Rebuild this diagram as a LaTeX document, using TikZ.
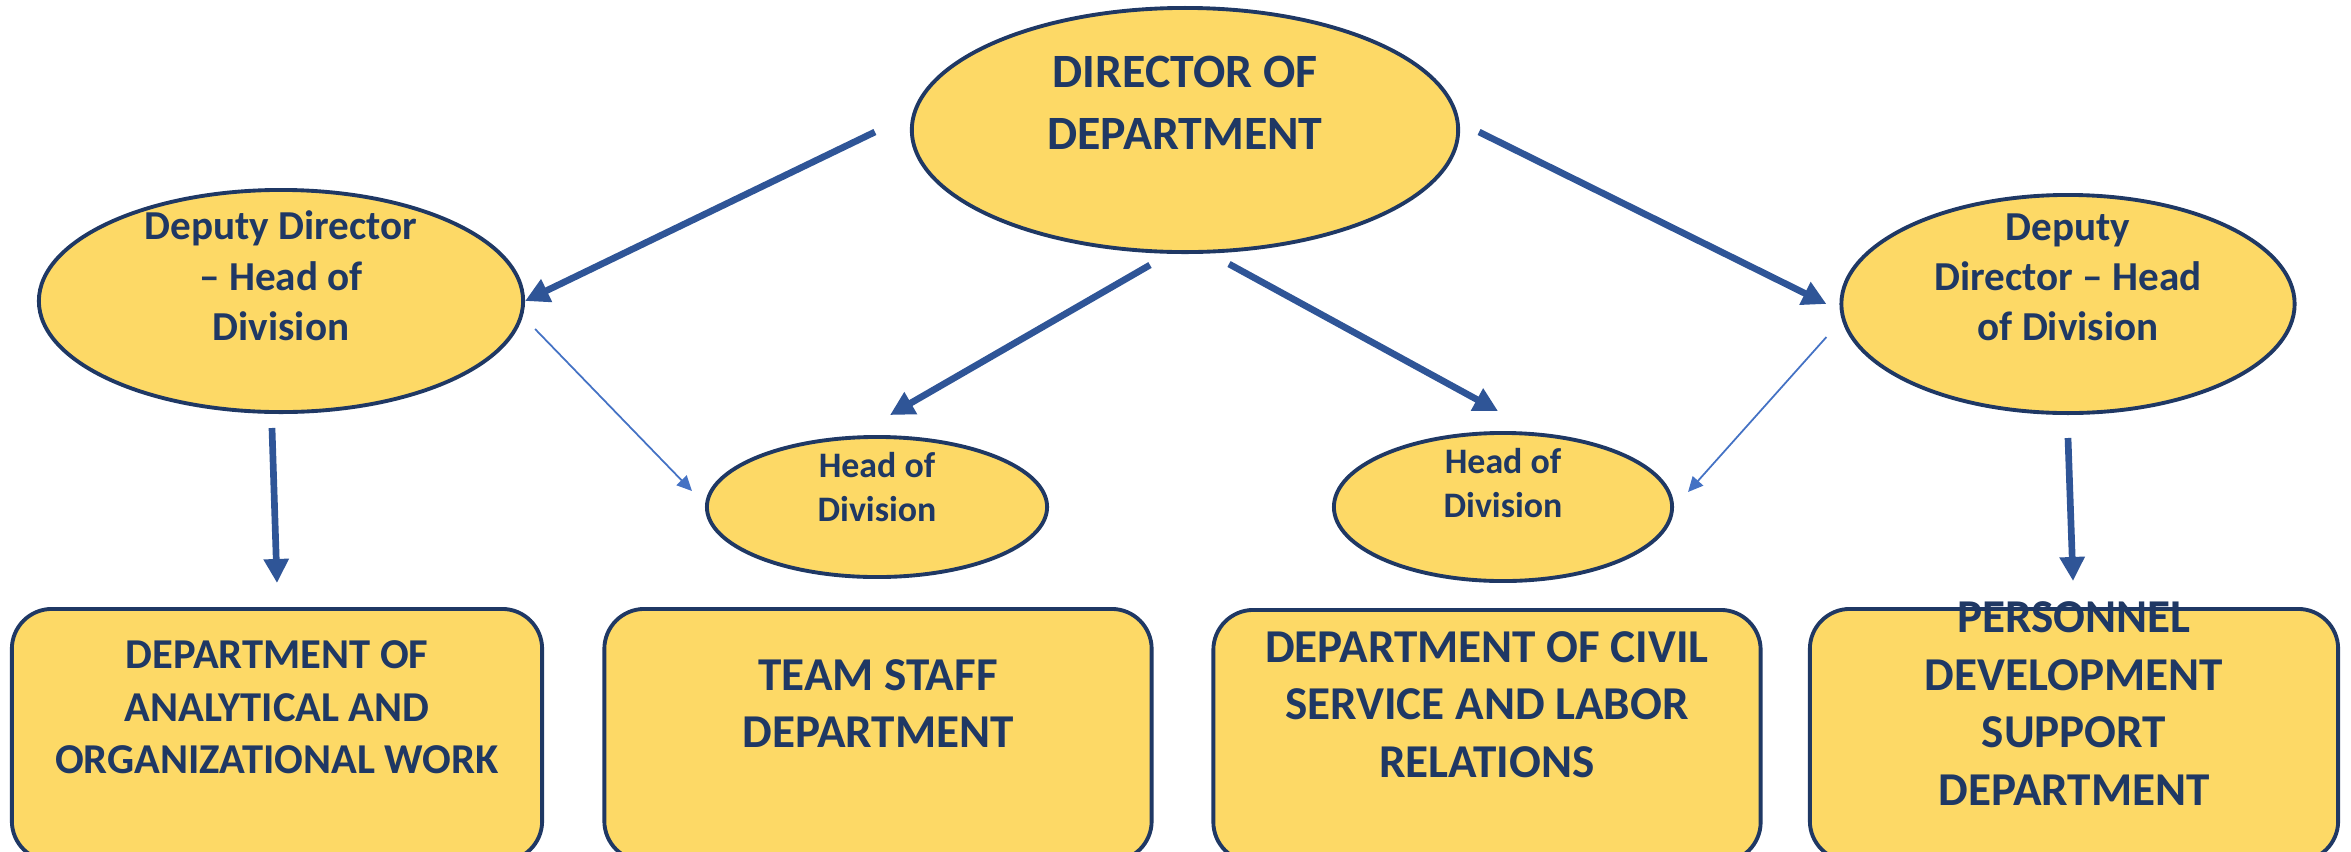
\documentclass[tikz,border=0pt]{standalone}
\usepackage{fontspec}
\setmainfont{Carlito}
\usetikzlibrary{shapes.geometric,arrows.meta,calc}
\definecolor{gold}    {RGB}{253,217,102}
\definecolor{navy}    {RGB}{ 31, 56,100}
\definecolor{linkblue}{RGB}{ 47, 85,151}
\definecolor{thinblue}{RGB}{ 68,114,196}
\newcommand{\ftop}{\fontsize{13.6}{17.4}\selectfont\bfseries}
\newcommand{\fbig}{\fontsize{13.4}{16.35}\selectfont\bfseries}
\newcommand{\fmid}{\fontsize{11.7}{14.3}\selectfont\bfseries}
\newcommand{\fsml}{\fontsize{10.2}{12.5}\selectfont\bfseries}
% text sits a little above the middle of its shape
\newcommand{\stacked}[2][0.32em]{\raisebox{#1}[0pt][0pt]{%
  \begin{tabular}{@{}c@{}}#2\end{tabular}}}
\tikzset{
  base/.style ={draw=navy,fill=gold,line width=1.1pt,inner sep=0pt,
                 text=navy},
  oval/.style ={base,ellipse},
  unit/.style ={base,rectangle,rounded corners=0.4cm,
                 minimum height=2.52cm},
  sig/.style  ={-{Triangle[length=0.24cm,width=0.24cm]},
                 line width=1.9pt,draw=linkblue},
  sigt/.style ={-{Triangle[length=0.15cm,width=0.14cm]},
                 line width=0.5pt,draw=thinblue},
}

\begin{document}
\begin{tikzpicture}[x=0.01cm,y=-0.01cm]
  \useasboundingbox (0,0) rectangle (2351,851);
  \clip (0,0) rectangle (2351,851);
  % ovals
  \node[oval,minimum width=5.46cm,minimum height=2.44cm,font=\ftop]
        (dir)   at (1185,130) {\stacked[0.23em]{DIRECTOR OF\\DEPARTMENT}};
  \node[oval,minimum width=4.84cm,minimum height=2.22cm,font=\fmid]
        (depL)  at (281,301)  {\stacked[0.25em]{Deputy Director\\– Head of\\Division}};
  \node[oval,minimum width=4.53cm,minimum height=2.18cm,font=\fmid]
        (depR)  at (2068,304) {\stacked{Deputy\\Director – Head\\of Division}};
  \node[oval,minimum width=3.40cm,minimum height=1.40cm,font=\fsml]
        (head1) at (877,507)  {\stacked[0.2em]{Head of\\Division}};
  \node[oval,minimum width=3.38cm,minimum height=1.48cm,font=\fsml]
        (head2) at (1503,507) {\stacked{Head of\\Division}};
  % departments
  \node[unit,minimum width=5.30cm,font=\fontsize{12.1}{14.9}\selectfont\bfseries]
        (box1) at (277,735)
        {\stacked{DEPARTMENT OF\\ANALYTICAL AND\\ORGANIZATIONAL WORK}};
  \node[unit,minimum width=5.47cm,font=\fbig] (box2) at (878,735)
        {\stacked{TEAM STAFF\\DEPARTMENT}};
  \node[unit,minimum width=5.47cm,font=\fbig] (box3) at (1487,736)
        {\stacked{DEPARTMENT OF CIVIL\\SERVICE AND LABOR\\RELATIONS}};
  \node[unit,minimum width=5.28cm,font=\fbig] (box4) at (2074,735)
        {\stacked{PERSONNEL\\DEVELOPMENT\\SUPPORT\\DEPARTMENT}};
  % director -> deputies and heads
  \draw[sig] ($(dir.west)+(-35,2)$)   -- (depL.east);
  \draw[sig] ($(dir.south)+(-35,11)$) -- ($(head1.north)+(13,-20)$);
  \draw[sig] ($(dir.south)+(44,10)$)  -- ($(head2.north)+(-5,-20)$);
  \draw[sig] ($(dir.east)+(19,2)$)    -- ($(depR.west)+(-13,0)$);
  % deputies -> departments
  \draw[sig] ($(depL.south)+(-9,14)$) -- ($(box1.north)+(0,-24)$);
  \draw[sig] ($(depR.south)+(0,23)$)  -- ($(box4.north)+(-1,-26)$);
  % deputies -> heads (thin)
  \draw[sigt] ($(depL.east)+(10,28)$)  -- ($(head1.west)+(-13,-16)$);
  \draw[sigt] ($(depR.west)+(-13,33)$) -- ($(head2.east)+(14,-15)$);
\end{tikzpicture}
\end{document}
